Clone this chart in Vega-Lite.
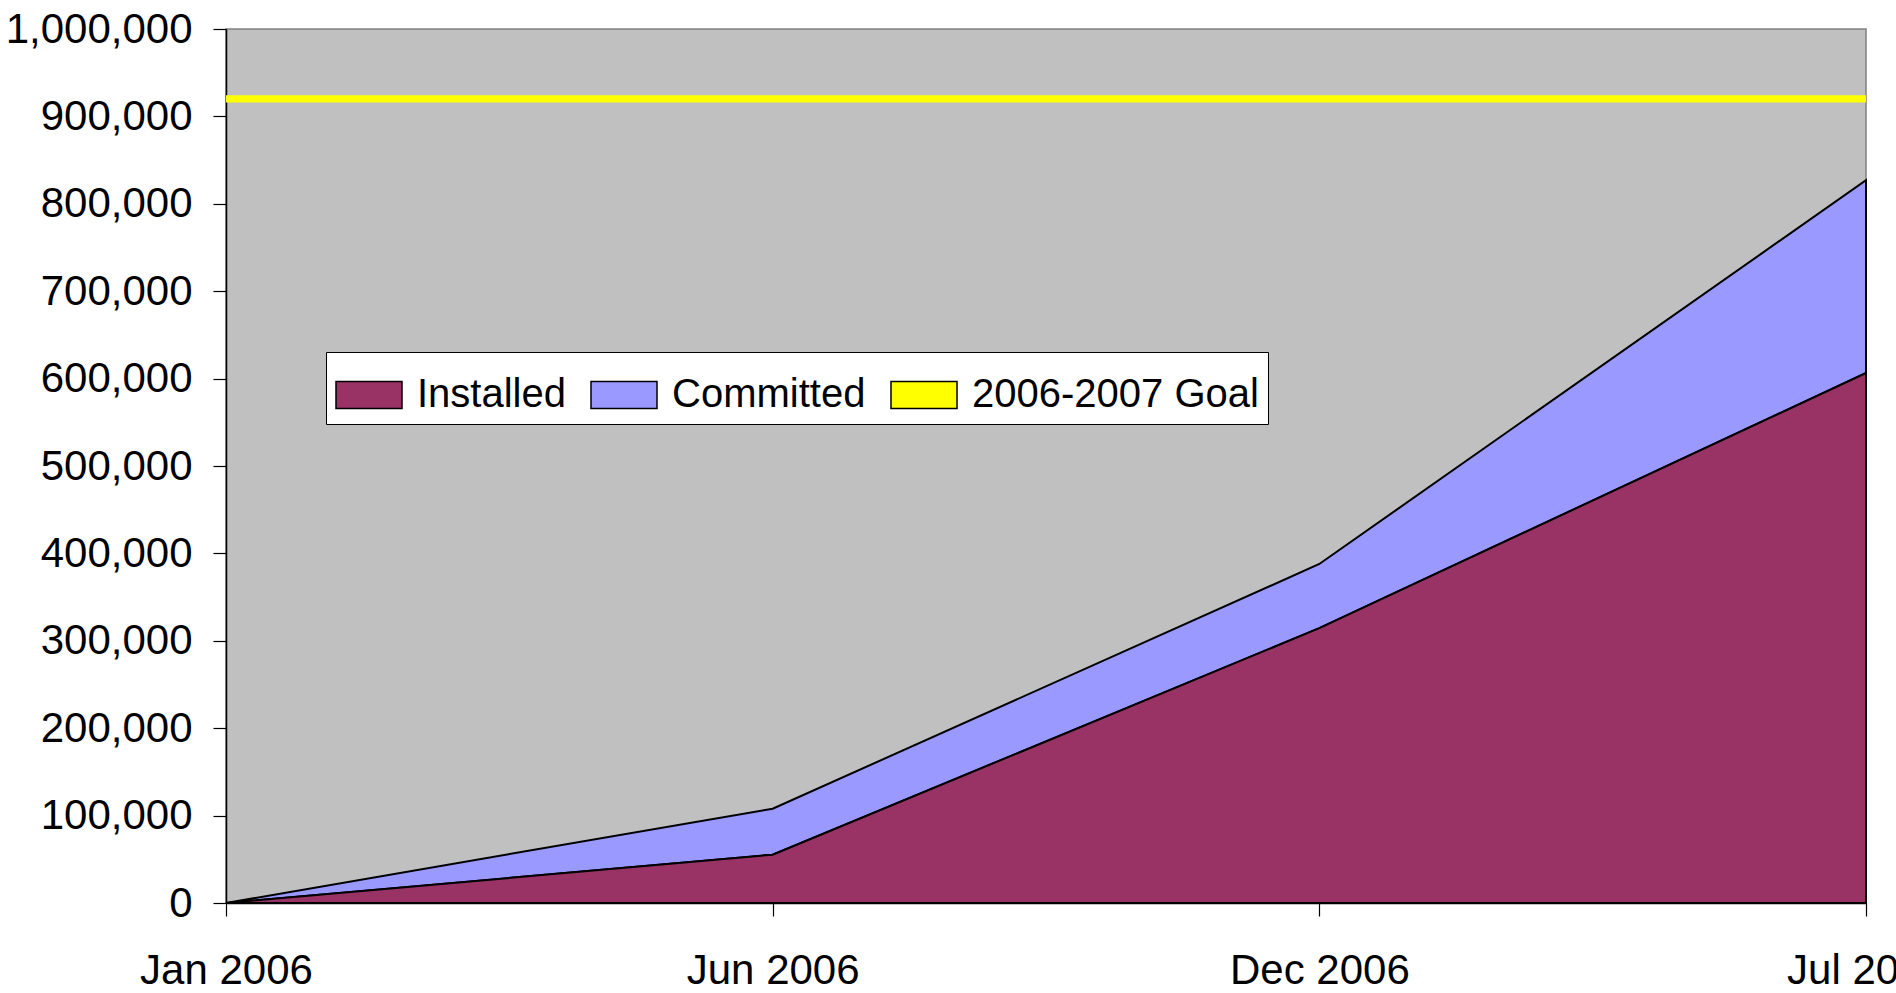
{
  "$schema": "https://vega.github.io/schema/vega-lite/v6.json",
  "autosize": {"type": "none"},
  "padding": {"left": 226, "top": 29, "right": 30, "bottom": 90},
  "width": 1640,
  "height": 874,
  "background": "#FFFFFF",
  "config": {
    "font": "Liberation Sans",
    "view": {"fill": "#C0C0C0", "stroke": "#808080", "strokeWidth": 1.5},
    "axis": {
      "labelFont": "Liberation Sans",
      "labelFontSize": 42,
      "labelColor": "#000000",
      "labelLimit": 0,
      "domainColor": "#000000",
      "domainWidth": 1.5,
      "tickColor": "#000000",
      "tickWidth": 1.2,
      "grid": false,
      "title": null
    },
    "legend": {
      "labelFont": "Liberation Sans",
      "labelFontSize": 40,
      "labelColor": "#000000",
      "labelLimit": 0,
      "symbolStrokeColor": "#000000",
      "symbolStrokeWidth": 1.5
    }
  },
  "datasets": {
    "capacity": [
      {"month": "Jan 2006", "installed": 0, "committed": 0},
      {"month": "Jun 2006", "installed": 55300, "committed": 107900},
      {"month": "Dec 2006", "installed": 314500, "committed": 387900},
      {"month": "Jul 2007", "installed": 606400, "committed": 827000}
    ],
    "goal": [
      {"series": "2006-2007 Goal", "goal": 920000}
    ]
  },
  "layer": [
    {
      "data": {"name": "capacity"},
      "mark": {"type": "area", "stroke": "#000000", "strokeWidth": 2, "strokeJoin": "miter", "opacity": 1},
      "encoding": {
        "x": {
          "field": "month",
          "type": "nominal",
          "sort": null,
          "scale": {"type": "point", "padding": 0},
          "axis": {"labelAngle": 0, "tickSize": 13, "labelPadding": 34, "labelBaseline": "top"}
        },
        "y": {
          "field": "committed",
          "type": "quantitative",
          "scale": {"domain": [0, 1000000], "nice": false},
          "axis": {
            "values": [0, 100000, 200000, 300000, 400000, 500000, 600000, 700000, 800000, 900000, 1000000],
            "format": ",d",
            "tickSize": 13,
            "labelPadding": 21
          }
        },
        "y2": {"field": "installed"},
        "color": {
          "datum": "Committed",
          "type": "nominal",
          "title": null,
          "scale": {
            "domain": ["Installed", "Committed", "2006-2007 Goal"],
            "range": ["#993366", "#9999FF", "#FFFF00"]
          },
          "legend": {
            "title": null,
            "orient": "none",
            "legendX": 100,
            "legendY": 323,
            "direction": "horizontal",
            "fillColor": "#FFFFFF",
            "strokeColor": "#000000",
            "padding": 9,
            "symbolSize": 4356,
            "symbolType": "M-1,-0.41H1V0.41H-1Z",
            "labelOffset": 14,
            "columnPadding": 22,
            "labelLimit": 0
          }
        }
      }
    },
    {
      "data": {"name": "capacity"},
      "mark": {"type": "area", "stroke": "#000000", "strokeWidth": 2, "strokeJoin": "miter", "opacity": 1},
      "encoding": {
        "x": {"field": "month", "type": "nominal", "sort": null},
        "y": {"field": "installed", "type": "quantitative"},
        "color": {"datum": "Installed", "type": "nominal", "title": null}
      }
    },
    {
      "data": {"name": "goal"},
      "mark": {"type": "rule", "stroke": "#FFFF00", "strokeWidth": 7.3},
      "encoding": {
        "y": {"field": "goal", "type": "quantitative"}
      }
    }
  ]
}
